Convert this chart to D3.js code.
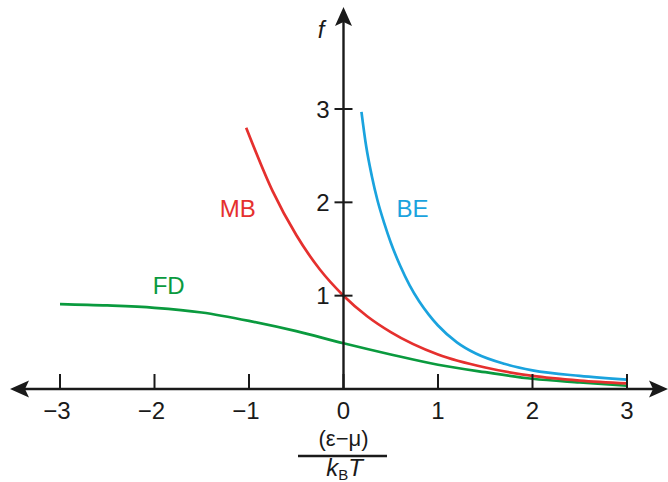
<!DOCTYPE html>
<html>
<head>
<meta charset="utf-8">
<script src="https://cdn.jsdelivr.net/npm/d3@7"></script>
<style>
  html, body { margin: 0; padding: 0; background: #fff; }
  svg { display: block; font-family: "Liberation Sans", Arial, sans-serif; }
</style>
</head>
<body>
<svg id="chart" width="668" height="482"></svg>
<script>
// ---- data ----
const xTicks = [-3, -2, -1, 0, 1, 2, 3];
const xTickLabels = ["\u22123", "\u22122", "\u22121", "0", "1", "2", "3"];
const yTicks = [1, 2, 3];
const yTickLabels = ["1", "2", "3"];

const fdX = [-3, -2.5, -2, -1.5, -1, -0.5, 0, 0.5, 1, 1.5, 2, 2.5, 3];
const fdY = [0.91, 0.895, 0.87, 0.82, 0.73, 0.62, 0.49, 0.37, 0.26, 0.18, 0.11, 0.07, 0.035];

const mbX = [-1.03, -0.75, -0.5, -0.25, 0, 0.25, 0.5, 1, 1.5, 2, 2.5, 3];
const mbY = [2.8, 2.12, 1.65, 1.28, 1.0, 0.78, 0.61, 0.37, 0.23, 0.14, 0.09, 0.06];

const beX = [0.19, 0.24, 0.3, 0.36, 0.43, 0.5, 0.6, 0.7, 0.8, 0.9, 1.0, 1.2, 1.4, 1.7, 2.0, 2.5, 3.0];
const beY = [2.97, 2.6, 2.28, 2.02, 1.78, 1.57, 1.32, 1.11, 0.94, 0.8, 0.68, 0.5, 0.38, 0.27, 0.2, 0.14, 0.1];

const seriesNames = ["FD", "MB", "BE"];
const seriesColors = ["#0a9a3e", "#e5302e", "#1aa3de"];

// ---- layout ----
const svg = d3.select("#chart");
const x = d3.scaleLinear().domain([-3, 3]).range([60, 627]);
const y = d3.scaleLinear().domain([0, 3]).range([389, 109]);
const ink = "#1a1a1a";
const fontSize = 24;

// curves
const line = d3.line().x(d => x(d[0])).y(d => y(d[1])).curve(d3.curveMonotoneX);
const series = [
  { name: seriesNames[0], pts: fdX.map((v, i) => [v, fdY[i]]), color: seriesColors[0], lx: -1.85, ly: 1.02 },
  { name: seriesNames[1], pts: mbX.map((v, i) => [v, mbY[i]]), color: seriesColors[1], lx: -1.12, ly: 1.84 },
  { name: seriesNames[2], pts: beX.map((v, i) => [v, beY[i]]), color: seriesColors[2], lx: 0.73, ly: 1.84 }
];

series.forEach(s => {
  svg.append("path")
    .attr("d", line(s.pts))
    .attr("fill", "none")
    .attr("stroke", s.color)
    .attr("stroke-width", 2.7)
    .attr("stroke-linecap", "butt");
});

// x axis line
const axY = y(0);
svg.append("line").attr("x1", 20).attr("x2", 660).attr("y1", axY).attr("y2", axY)
  .attr("stroke", ink).attr("stroke-width", 2.4);
// y axis line
svg.append("line").attr("x1", x(0)).attr("x2", x(0)).attr("y1", axY).attr("y2", 20)
  .attr("stroke", ink).attr("stroke-width", 2.4);

function arrow(tipX, tipY, dirX, dirY) {
  const L = 19, W = 8.5, notch = 4;
  const px = -dirY, py = dirX;
  const bx = tipX - dirX * L, by = tipY - dirY * L;
  const nx = tipX - dirX * (L - notch), ny = tipY - dirY * (L - notch);
  const p = d3.path();
  p.moveTo(tipX, tipY);
  p.lineTo(bx + px * W, by + py * W);
  p.lineTo(nx, ny);
  p.lineTo(bx - px * W, by - py * W);
  p.closePath();
  svg.append("path").attr("d", p.toString()).attr("fill", ink);
}
arrow(10, axY, -1, 0);
arrow(668, axY, 1, 0);
arrow(x(0), 7, 0, -1);

// x ticks (upward)
svg.selectAll(".xt").data(xTicks).enter().append("line")
  .attr("x1", d => x(d)).attr("x2", d => x(d))
  .attr("y1", axY).attr("y2", axY - 15)
  .attr("stroke", ink).attr("stroke-width", 2);
svg.selectAll(".xl").data(xTicks).enter().append("text")
  .attr("x", (d, i) => x(d) + (xTickLabels[i].startsWith("\u2212") ? -3 : 0))
  .attr("y", 419)
  .attr("text-anchor", "middle")
  .attr("font-size", fontSize)
  .attr("fill", ink)
  .text((d, i) => xTickLabels[i]);

// y ticks (crossing)
svg.selectAll(".yt").data(yTicks).enter().append("line")
  .attr("x1", x(0) - 9).attr("x2", x(0) + 9)
  .attr("y1", d => y(d)).attr("y2", d => y(d))
  .attr("stroke", ink).attr("stroke-width", 2);
svg.selectAll(".yl").data(yTicks).enter().append("text")
  .attr("x", x(0) - 14)
  .attr("y", d => y(d) + 8.5)
  .attr("text-anchor", "end")
  .attr("font-size", fontSize)
  .attr("fill", ink)
  .text((d, i) => yTickLabels[i]);

// f axis label
svg.append("text").attr("x", 321).attr("y", 38)
  .attr("text-anchor", "middle").attr("font-size", fontSize).attr("font-style", "italic")
  .attr("fill", ink).text("f");

// x axis title as a fraction
svg.append("text").attr("x", x(0)).attr("y", 446)
  .attr("text-anchor", "middle").attr("font-size", 22).attr("fill", ink)
  .text("(\u03b5\u2212\u03bc)");
svg.append("line").attr("x1", 298).attr("x2", 387).attr("y1", 456).attr("y2", 456)
  .attr("stroke", ink).attr("stroke-width", 2.4);
const kt = svg.append("text").attr("x", x(0) + 1).attr("y", 476)
  .attr("text-anchor", "middle").attr("font-size", fontSize).attr("fill", ink);
kt.append("tspan").attr("font-style", "italic").text("k");
kt.append("tspan").attr("font-size", 15).attr("dy", 4).text("B");
kt.append("tspan").attr("font-style", "italic").attr("dy", -4).text("T");

// series labels
series.forEach(s => {
  svg.append("text").attr("x", x(s.lx)).attr("y", y(s.ly))
    .attr("text-anchor", "middle").attr("font-size", fontSize).attr("fill", s.color)
    .text(s.name);
});
</script>
</body>
</html>
